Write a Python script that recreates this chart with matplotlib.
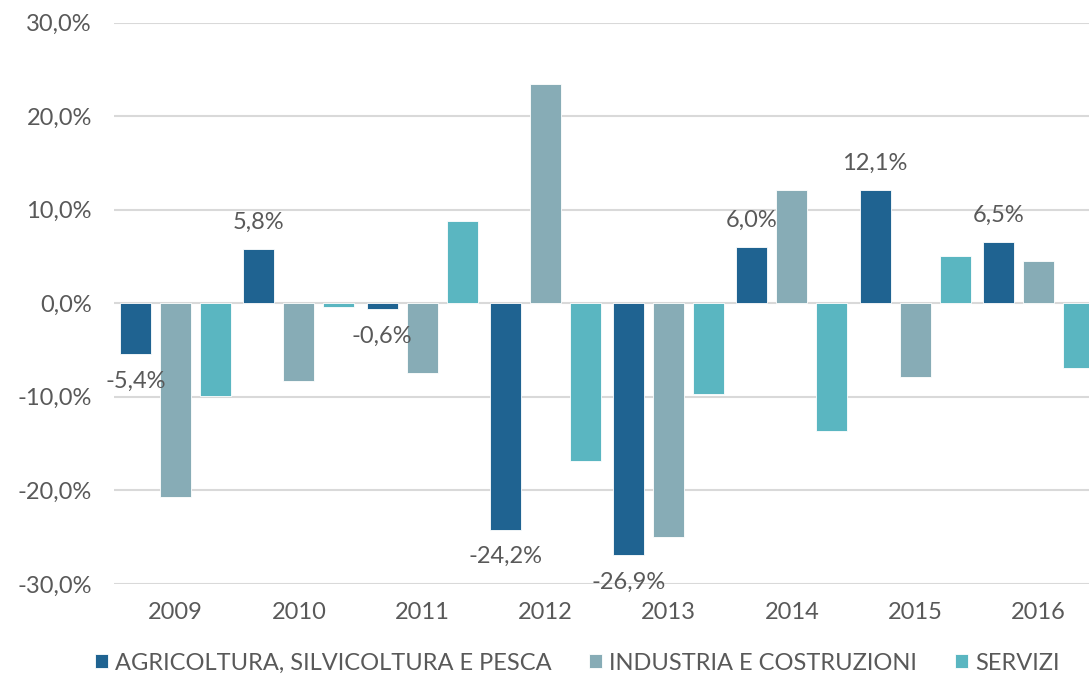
"""
Variazione percentuale per settore (2009-2016), grafico a barre raggruppate.

Output:
    out.png
"""
import numpy as np
import matplotlib.pyplot as plt

# Data (valori in %)
YEARS = ["2009", "2010", "2011", "2012", "2013", "2014", "2015", "2016"]
SERIES = ["AGRICOLTURA, SILVICOLTURA E PESCA", "INDUSTRIA E COSTRUZIONI", "SERVIZI"]
AGRICOLTURA = [-5.4, 5.8, -0.6, -24.2, -26.9, 6.0, 12.1, 6.5]
INDUSTRIA = [-20.7, -8.3, -7.5, 23.4, -25.0, 12.1, -7.9, 4.5]
SERVIZI = [-9.9, -0.4, 8.8, -16.9, -9.7, -13.6, 5.0, -6.9]
Y_TICKS = [-30, -20, -10, 0, 10, 20, 30]

COLORS = ["#1F6391", "#87ACB6", "#5AB6C1"]
TEXT = "#595959"
GRID = "#D9D9D9"
FONT = "Lato"
FS = 17


def pct(v: float) -> str:
    return f"{v:.1f}%".replace(".", ",")


def main() -> None:
    plt.rcParams["font.family"] = [FONT, "DejaVu Sans"]

    fig = plt.figure(figsize=(10.89, 6.77), dpi=100)
    # plot area runs a bit past the right edge, as in the source
    ax = fig.add_axes([114 / 1089, 93 / 677, 986 / 1089, 561.5 / 677])

    x = np.arange(len(YEARS))
    step = 0.324
    width = 0.251
    all_vals = [AGRICOLTURA, INDUSTRIA, SERVIZI]

    bars_agri = None
    for i, (vals, name, col) in enumerate(zip(all_vals, SERIES, COLORS)):
        bars = ax.bar(x + (i - 1) * step, vals, width, color=col, label=name,
                      edgecolor="white", linewidth=0.6, zorder=3)
        if i == 0:
            bars_agri = bars

    # data labels only on the first series
    for rect, v in zip(bars_agri, AGRICOLTURA):
        cx = rect.get_x() + rect.get_width() / 2
        off = 19.5 if v >= 0 else -19.5
        ax.annotate(pct(v), (cx, v), xytext=(0, off), textcoords="offset points",
                    ha="center", va="center", fontsize=FS, color=TEXT, zorder=4)

    ax.set_xlim(-0.5, len(YEARS) - 0.5)
    ax.set_ylim(-30, 30)
    ax.set_yticks(Y_TICKS)
    ax.set_yticklabels([pct(t) for t in Y_TICKS])
    ax.set_xticks(x)
    ax.set_xticklabels(YEARS)
    ax.tick_params(axis="y", length=0, pad=16, labelsize=FS, labelcolor=TEXT)
    ax.tick_params(axis="x", length=0, pad=13, labelsize=FS, labelcolor=TEXT)
    ax.grid(axis="y", color=GRID, linewidth=1.5, zorder=0)
    ax.set_axisbelow(True)
    for s in ax.spines.values():
        s.set_visible(False)

    fig.legend(loc="center", bbox_to_anchor=(577 / 1089, 14 / 677), ncol=3,
               frameon=False, fontsize=FS, labelcolor=TEXT,
               handlelength=0.55, handleheight=0.55, handletextpad=0.3,
               columnspacing=1.6)

    fig.savefig("out.png", dpi=100)
    plt.close(fig)


if __name__ == "__main__":
    main()
